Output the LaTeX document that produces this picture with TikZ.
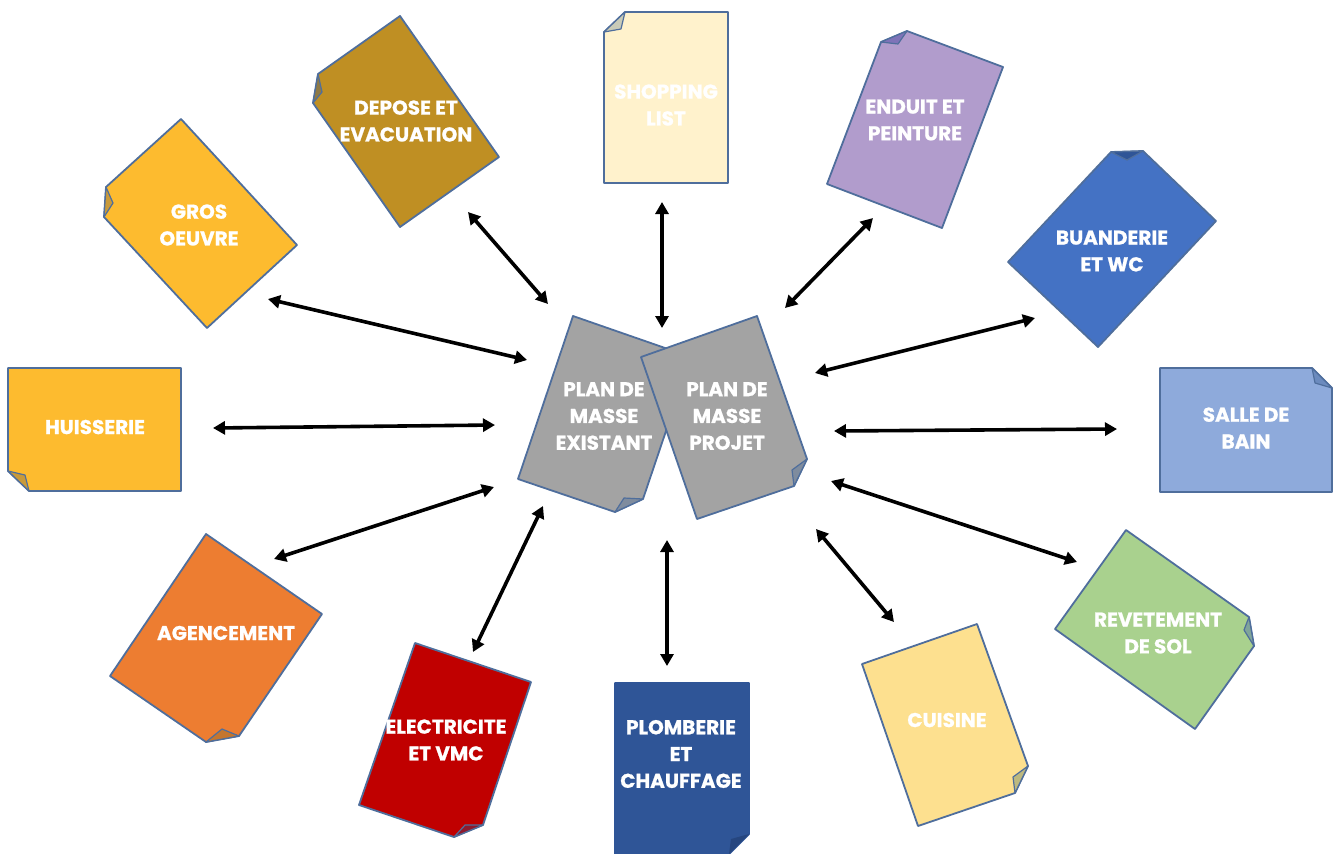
\documentclass[tikz,border=0pt]{standalone}
\usepackage{fontspec}
\setmainfont{Poppins}[BoldFeatures={FakeBold=0.9}]
\usetikzlibrary{arrows.meta}
\definecolor{edge}{HTML}{4F6E9C}
\definecolor{cGros}{HTML}{FDBB2F}
\definecolor{fGros}{HTML}{C99A3A}
\definecolor{cDepose}{HTML}{BF8F23}
\definecolor{fDepose}{HTML}{8F7A45}
\definecolor{cShop}{HTML}{FFF2CC}
\definecolor{fShop}{HTML}{C9CBB8}
\definecolor{cEnduit}{HTML}{B19CCC}
\definecolor{fEnduit}{HTML}{7E73B8}
\definecolor{cBuand}{HTML}{4472C4}
\definecolor{fBuand}{HTML}{2F5597}
\definecolor{cSalle}{HTML}{8EAADB}
\definecolor{fSalle}{HTML}{6C8BBE}
\definecolor{cRev}{HTML}{A9D18E}
\definecolor{fRev}{HTML}{80A59A}
\definecolor{cCuis}{HTML}{FDE08F}
\definecolor{fCuis}{HTML}{BDB97F}
\definecolor{cPlomb}{HTML}{2F5597}
\definecolor{fPlomb}{HTML}{26467F}
\definecolor{cElec}{HTML}{C00000}
\definecolor{fElec}{HTML}{8E1A2E}
\definecolor{cAgen}{HTML}{ED7D31}
\definecolor{fAgen}{HTML}{C4762F}
\definecolor{cGrey}{HTML}{A3A3A3}
\definecolor{fGrey}{HTML}{7F8C9E}
\tikzset{
  sheet/.style={draw=edge,line width=0.9pt,line join=round},
  foldmark/.style={draw=edge,line width=0.6pt,line join=round},
  label/.style={text=white,font=\fontsize{10}{13.4}\selectfont\bfseries,align=center,inner sep=0pt},
  link/.style={draw=black,line width=1.8pt,{Triangle[length=6pt,width=6.5pt]}-{Triangle[length=6pt,width=6.5pt]}}
}
\begin{document}
\begin{tikzpicture}[x=0.5pt,y=-0.5pt]
\useasboundingbox (0,0) rectangle (1337,853);
% sheets
\draw[sheet,fill=cGros] (181,119)--(297,245)--(207,328)--(104,217)--(106,187)--cycle;
\draw[foldmark,fill=fGros] (106,187)--(113,203)--(104,217)--cycle;
\draw[sheet,fill=cDepose] (400,16)--(499,157)--(400,227)--(313,103)--(318,74)--cycle;
\draw[foldmark,fill=fDepose] (318,74)--(322,92)--(313,103)--cycle;
\draw[sheet,fill=cShop] (625,12)--(728,12)--(728,183)--(604,183)--(604,32)--cycle;
\draw[foldmark,fill=fShop] (625,12)--(621,29)--(604,32)--cycle;
\draw[sheet,fill=cEnduit] (907,31)--(1003,67)--(942,228)--(827,184)--(881,42)--cycle;
\draw[foldmark,fill=fEnduit] (907,31)--(898,44)--(881,42)--cycle;
\draw[sheet,fill=cBuand] (1111,152)--(1143,151)--(1216,221)--(1098,347)--(1008,262)--cycle;
\draw[foldmark,fill=fBuand] (1111,152)--(1127,160)--(1143,151)--cycle;
\draw[sheet,fill=cSalle] (1160,368)--(1312,368)--(1332,388)--(1332,492)--(1160,492)--cycle;
\draw[foldmark,fill=fSalle] (1312,368)--(1315,383)--(1332,388)--cycle;
\draw[sheet,fill=cRev] (1126,530)--(1249,617)--(1254,646)--(1195,729)--(1055,629)--cycle;
\draw[foldmark,fill=fRev] (1249,617)--(1244,630)--(1254,646)--cycle;
\draw[sheet,fill=cCuis] (862,664)--(977,624)--(1028,766)--(1015,793)--(918,826)--cycle;
\draw[foldmark,fill=fCuis] (1028,766)--(1013,777)--(1015,793)--cycle;
\draw[sheet,draw=cPlomb,fill=cPlomb] (615,683)--(749,683)--(749,834)--(725,858)--(615,858)--cycle;
\fill[fPlomb] (749,834)--(731,839)--(729,854)--cycle;
\draw[sheet,fill=cElec] (415,643)--(531,682)--(483,825)--(454,837)--(359,805)--cycle;
\draw[foldmark,fill=fElec] (483,825)--(465,825)--(454,837)--cycle;
\draw[sheet,fill=cAgen] (206,534)--(322,614)--(239,736)--(206,742)--(110,676)--cycle;
\draw[foldmark,fill=fAgen] (239,736)--(222,729)--(206,742)--cycle;
\draw[sheet,fill=cGros] (8,368)--(181,368)--(181,491)--(29,491)--(8,471)--cycle;
\draw[foldmark,fill=fGros] (8,471)--(25,475)--(29,491)--cycle;
\draw[sheet,fill=cGrey] (573,316)--(691,357)--(643,499)--(615,512)--(518,479)--cycle;
\draw[foldmark,fill=fGrey] (643,499)--(624,498)--(615,512)--cycle;
\draw[sheet,fill=cGrey] (641,357)--(757,316)--(807,459)--(794,486)--(697,519)--cycle;
\draw[foldmark,fill=fGrey] (807,459)--(792,470)--(794,486)--cycle;
% labels
\node[label] (gros) at (199,225) {GROS\\OEUVRE};
\node[label] (depose) at (406,121) {DEPOSE ET\\EVACUATION};
\node[label] (shop) at (666,105) {SHOPPING\\LIST};
\node[label] (enduit) at (915,120) {ENDUIT ET\\PEINTURE};
\node[label] (buand) at (1112,251) {BUANDERIE\\ET WC};
\node[label] (salle) at (1246,428) {SALLE DE\\BAIN};
\node[label] (rev) at (1158,633) {REVETEMENT\\DE SOL};
\node[label] (cuis) at (947,720) {CUISINE};
\node[label] (plomb) at (681,754) {PLOMBERIE\\ET\\CHAUFFAGE};
\node[label] (elec) at (446,740) {ELECTRICITE\\ET VMC};
\node[label] (agen) at (226,633) {AGENCEMENT};
\node[label] (huis) at (95,427) {HUISSERIE};
\node[label] (exist) at (604,416) {PLAN DE\\MASSE\\EXISTANT};
\node[label] (proj) at (727,416) {PLAN DE\\MASSE\\PROJET};
% connector ends
\coordinate (a1) at (268,299); \coordinate (b1) at (527,360);
\coordinate (a2) at (468,212); \coordinate (b2) at (548,304);
\coordinate (a3) at (662,202); \coordinate (b3) at (662,328);
\coordinate (a4) at (873,218); \coordinate (b4) at (785,308);
\coordinate (a5) at (1035,318); \coordinate (b5) at (815,373);
\coordinate (a6) at (1117,429); \coordinate (b6) at (834,431);
\coordinate (a7) at (1077,562); \coordinate (b7) at (831,481);
\coordinate (a8) at (894,622); \coordinate (b8) at (816,529);
\coordinate (a9) at (667,666); \coordinate (b9) at (667,540);
\coordinate (a10) at (473,652); \coordinate (b10) at (543,506);
\coordinate (a11) at (274,559); \coordinate (b11) at (494,487);
\coordinate (a12) at (213,428); \coordinate (b12) at (495,425);
\foreach \k in {1,...,12}{\draw[link] (a\k) -- (b\k);}
\end{tikzpicture}
\end{document}
